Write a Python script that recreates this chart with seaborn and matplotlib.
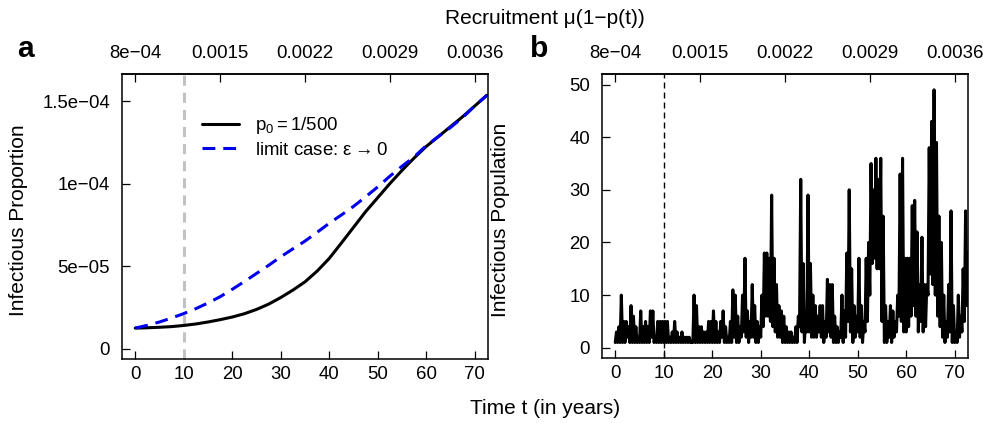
import numpy as np
import pandas as pd
import matplotlib
matplotlib.use("Agg")
import matplotlib.pyplot as plt
import seaborn as sns

# ---- panel a: deterministic infectious proportion ----
years = [0, 2.5, 5, 7.5, 10, 12.5, 15, 17.5, 20, 22.5, 25, 27.5, 30, 32.5, 35,
         37.5, 40, 42.5, 45, 47.5, 50, 52.5, 55, 57.5, 60, 62.5, 65, 67.5, 70, 72.5]
prop_p0 = [1.25, 1.27, 1.30, 1.34, 1.41, 1.50, 1.62, 1.76, 1.92, 2.12, 2.38, 2.70,
           3.10, 3.55, 4.05, 4.70, 5.47, 6.40, 7.35, 8.30, 9.15, 10.00, 10.80,
           11.55, 12.25, 12.85, 13.45, 14.05, 14.70, 15.35]  # x 1e-5
prop_limit = [1.25, 1.42, 1.62, 1.86, 2.13, 2.43, 2.77, 3.15, 3.60, 4.07, 4.56, 5.05,
              5.57, 6.05, 6.52, 7.05, 7.60, 8.10, 8.62, 9.20, 9.80, 10.45, 11.05,
              11.62, 12.30, 12.85, 13.40, 14.00, 14.70, 15.35]  # x 1e-5

# ---- panel b: stochastic infectious population (half-year bins) ----
bin_start = list(np.arange(0, 73, 0.5))
cases_hi = [3, 4, 10, 5, 5, 4, 8, 6, 4, 2, 7, 4, 5, 4, 7, 7, 2, 5, 5, 5,
            5, 5, 2, 3, 5, 3, 2, 3, 2, 2, 2, 1, 10, 8, 4, 4, 3, 3, 5, 5,
            7, 5, 3, 5, 7, 4, 2, 5, 11, 10, 6, 4, 10, 17, 7, 5, 12, 8, 5, 4,
            10, 18, 18, 17, 29, 17, 12, 8, 7, 6, 4, 3, 3, 2, 4, 6, 32, 16, 5, 29,
            16, 10, 8, 6, 8, 8, 5, 13, 12, 12, 6, 4, 3, 10, 7, 18, 30, 15, 8, 6,
            17, 8, 5, 17, 20, 35, 30, 36, 32, 36, 25, 8, 5, 8, 7, 5, 10, 33, 36, 17,
            17, 17, 27, 28, 22, 12, 21, 12, 12, 38, 43, 49, 39, 25, 20, 10, 5, 12, 26, 8,
            3, 10, 6, 15, 26, 18]
cases_lo = [1, 1, 1, 1, 1, 2, 1, 1, 1, 1, 1, 1, 1, 1, 1, 2, 1, 1, 1, 1,
            1, 1, 1, 1, 1, 1, 1, 1, 1, 1, 1, 1, 1, 1, 1, 1, 1, 1, 1, 1,
            1, 1, 1, 1, 2, 1, 1, 1, 1, 2, 1, 1, 2, 3, 2, 1, 2, 2, 1, 1,
            2, 4, 6, 6, 5, 4, 3, 2, 2, 1, 1, 1, 1, 1, 1, 1, 4, 3, 1, 3,
            3, 2, 2, 2, 3, 2, 1, 2, 3, 2, 1, 1, 1, 2, 1, 2, 5, 3, 1, 2,
            3, 2, 1, 3, 5, 10, 16, 17, 15, 15, 5, 1, 1, 2, 1, 2, 3, 6, 5, 3,
            3, 4, 6, 8, 6, 3, 5, 3, 4, 10, 14, 12, 10, 6, 4, 2, 1, 2, 3, 1,
            1, 1, 2, 3, 5, 8]

# top axis: recruitment rate as a linear function of time
rec_ticks = [0.0008, 0.0015, 0.0022, 0.0029, 0.0036]
rec_labels = ["8e\u221204", "0.0015", "0.0022", "0.0029", "0.0036"]
rec_start, rec_slope = 0.0008, 0.00004

time_ticks = [0, 10, 20, 30, 40, 50, 60, 70]
prop_ticks = [0, 5e-5, 1e-4, 1.5e-4]
prop_labels = ["0", "5e\u221205", "1e\u221204", "1.5e\u221204"]
pop_ticks = [0, 10, 20, 30, 40, 50]
intervention_year = 10

# ---- tables ----
df_a = pd.DataFrame({
    "t": years * 2,
    "value": [v * 1e-5 for v in prop_p0] + [v * 1e-5 for v in prop_limit],
    "case": ["p0"] * len(years) + ["limit"] * len(years),
})
t_b, y_b = [], []
for t0, lo, hi in zip(bin_start, cases_lo, cases_hi):
    t_b += [t0, t0 + 0.25]
    y_b += [lo, hi]
df_b = pd.DataFrame({"t": t_b, "I": y_b})

# ---- style ----
sns.set_theme(style="ticks")
plt.rcParams["font.family"] = ["Liberation Sans", "DejaVu Sans"]
plt.rcParams["mathtext.fontset"] = "custom"
plt.rcParams["mathtext.rm"] = "Liberation Sans"
plt.rcParams["mathtext.it"] = "Liberation Sans:italic"
for key in ["text.color", "axes.labelcolor", "xtick.color", "ytick.color",
            "axes.edgecolor"]:
    plt.rcParams[key] = "black"
plt.rcParams["axes.linewidth"] = 1.1

TICK_FS = 13.4
LAB_FS = 15.0

fig = plt.figure(figsize=(9.83, 4.23), dpi=100)
ax_a = fig.add_axes([0.1238, 0.1506, 0.3729, 0.6744])
ax_b = fig.add_axes([0.6121, 0.1530, 0.3729, 0.6720])


def to_rec(t):
    return rec_start + rec_slope * np.asarray(t)


def to_time(r):
    return (np.asarray(r) - rec_start) / rec_slope


def style_axes(ax):
    for s in ax.spines.values():
        s.set_visible(True)
        s.set_color("black")
        s.set_linewidth(1.1)
    ax.set_xlim(-2.8, 72.8)
    ax.set_xticks(time_ticks)
    ax.tick_params(axis="x", direction="in", length=5.5, width=0.9,
                   labelsize=TICK_FS, pad=4.6, colors="black")
    ax.tick_params(axis="y", direction="in", length=5.5, width=0.9,
                   labelsize=TICK_FS, pad=8.4, colors="black")
    ax.set_xlabel("")
    ax.set_ylabel("")
    top = ax.secondary_xaxis("top", functions=(to_rec, to_time))
    top.set_xticks(rec_ticks)
    top.set_xticklabels(rec_labels)
    top.tick_params(direction="in", length=5.5, width=0.9,
                    labelsize=TICK_FS, pad=8.4, colors="black")
    top.spines["top"].set_linewidth(1.1)
    ax.set_facecolor("white")


# panel a
ax_a.axvline(intervention_year, color="#c2c2c2", lw=2.2, dashes=(3.3, 2.3), zorder=1)
sns.lineplot(data=df_a[df_a.case == "p0"], x="t", y="value", ax=ax_a,
             color="black", lw=2.2, label="$\\mathregular{p_0 = 1/500}$", zorder=3)
sns.lineplot(data=df_a[df_a.case == "limit"], x="t", y="value", ax=ax_a,
             color="#0000ee", lw=2.2, dashes=(4.2, 2.6),
             label="limit case: \u03b5$\\rightarrow$0", zorder=4)
ax_a.set_ylim(-6.4e-6, 1.664e-4)
ax_a.set_yticks(prop_ticks)
ax_a.set_yticklabels(prop_labels)
style_axes(ax_a)
leg = ax_a.legend(loc="upper left", bbox_to_anchor=(0.2, 0.882), frameon=False,
                  fontsize=TICK_FS, handlelength=1.96, handletextpad=0.86,
                  labelspacing=0.3, borderaxespad=0)

# panel b
ax_b.axvline(intervention_year, color="black", lw=1.0, dashes=(4.3, 2.9), zorder=1)
sns.lineplot(data=df_b, x="t", y="I", ax=ax_b, color="black", lw=2.2,
             estimator=None, sort=False, zorder=3)
ax_b.set_ylim(-2, 52)
ax_b.set_yticks(pop_ticks)
style_axes(ax_b)

# shared labels
fig.text(545 / 983, 1 - 24 / 423, "Recruitment \u03bc(1\u2212p(t))", ha="center",
         va="baseline", fontsize=LAB_FS)
fig.text(545 / 983, 1 - 414 / 423, "Time t (in years)", ha="center",
         va="baseline", fontsize=LAB_FS)
fig.text(19 / 983, 1 - 220 / 423, "Infectious Proportion", rotation=90,
         ha="center", va="center", fontsize=LAB_FS)
fig.text(500 / 983, 1 - 220 / 423, "Infectious Population", rotation=90,
         ha="center", va="center", fontsize=LAB_FS)
fig.text(25 / 983, 1 - 57 / 423, "a", ha="center", va="baseline",
         fontsize=21.6, fontweight="bold")
fig.text(539 / 983, 1 - 57 / 423, "b", ha="center", va="baseline",
         fontsize=21.6, fontweight="bold")

fig.savefig("out.png", dpi=100, facecolor="white")
